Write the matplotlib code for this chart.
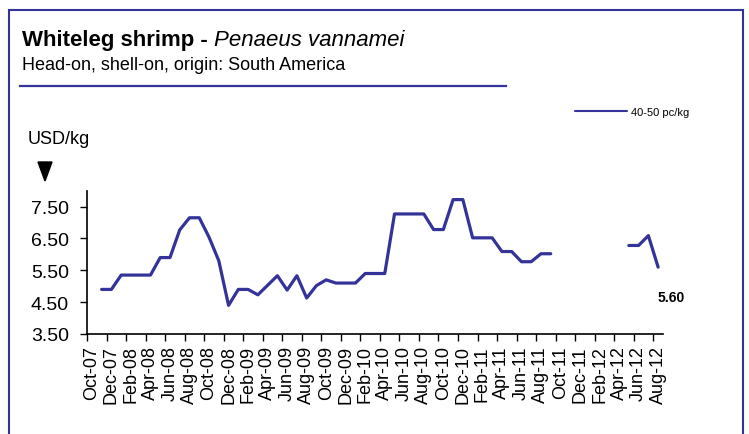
import numpy as np
import matplotlib
matplotlib.use("Agg")
import matplotlib.pyplot as plt
from matplotlib.patches import Rectangle, Polygon
from matplotlib.lines import Line2D

plt.rcParams['font.family'] = ['Liberation Sans', 'DejaVu Sans']

# monthly prices, Oct-07 .. Aug-12 (None = no quote)
prices = [None, 4.90, 4.90, 5.35, 5.35, 5.35, 5.35, 5.90, 5.90, 6.77,
          7.15, 7.15, 6.54, 5.80, 4.40, 4.90, 4.90, 4.73, 5.03, 5.33,
          4.88, 5.33, 4.63, 5.02, 5.20, 5.10, 5.10, 5.10, 5.40, 5.40,
          5.40, 7.27, 7.27, 7.27, 7.27, 6.78, 6.78, 7.72, 7.72, 6.52,
          6.52, 6.52, 6.09, 6.09, 5.77, 5.77, 6.02, 6.02, None, None,
          None, None, None, None, None, 6.28, 6.28, 6.59, 5.60]
tick_labels = ['Oct-07', 'Dec-07', 'Feb-08', 'Apr-08', 'Jun-08', 'Aug-08',
               'Oct-08', 'Dec-08', 'Feb-09', 'Apr-09', 'Jun-09', 'Aug-09',
               'Oct-09', 'Dec-09', 'Feb-10', 'Apr-10', 'Jun-10', 'Aug-10',
               'Oct-10', 'Dec-10', 'Feb-11', 'Apr-11', 'Jun-11', 'Aug-11',
               'Oct-11', 'Dec-11', 'Feb-12', 'Apr-12', 'Jun-12', 'Aug-12']
y_ticks = [3.50, 4.50, 5.50, 6.50, 7.50]
series_name = '40-50 pc/kg'
last_value = 5.60

blue = '#333399'
W, H = 749, 435

fig = plt.figure(figsize=(W / 100, H / 100), dpi=100)
ax = fig.add_axes([87 / W, 1 - 335 / H, (663 - 87) / W, (335 - 191.7) / H])

y = np.array([np.nan if v is None else v for v in prices])
x = np.arange(len(y))
ax.plot(x, y, color=blue, lw=2.3, solid_capstyle='round', solid_joinstyle='round',
        label=series_name)

ax.set_xlim(-0.5, len(y) - 0.5)
ax.set_ylim(3.5, 8.0)
ax.set_yticks(y_ticks)
ax.set_yticklabels(['%.2f' % v for v in y_ticks])
ax.set_xticks(np.arange(-0.5, len(y) - 1, 2))
ax.set_xticklabels([])
ax.set_xticks(np.arange(0, len(y), 2), minor=True)
ax.set_xticklabels(tick_labels, minor=True, rotation=90, fontsize=13)
ax.tick_params(axis='x', which='major', length=5, width=1, direction='out')
ax.tick_params(axis='x', which='minor', length=0, pad=8)
ax.tick_params(axis='y', length=5, width=1, direction='out', pad=8, labelsize=14)
for s in ['top', 'right']:
    ax.spines[s].set_visible(False)
for s in ['left', 'bottom']:
    ax.spines[s].set_linewidth(1.2)

ax.annotate('%.2f' % last_value, xy=(x[-1], y[-1]), xytext=(-1, -30),
            textcoords='offset pixels', ha='left', va='center',
            fontsize=10, fontweight='bold')

# legend
ax.legend(loc='center left', bbox_to_anchor=(575 / W, 1 - 112.7 / H),
          bbox_transform=fig.transFigure, frameon=False, fontsize=8,
          handlelength=4.7, handletextpad=0.3, borderpad=0, borderaxespad=0)
ax.get_legend().get_lines()[0].set_linewidth(1.5)

# header
t1 = fig.text(22 / W, 1 - 46 / H, 'Whiteleg shrimp - ', fontsize=16,
              fontweight='bold', va='baseline')
ax.annotate('Penaeus vannamei', xy=(1, 0), xycoords=t1, va='bottom', ha='left',
            fontsize=16, fontstyle='italic', annotation_clip=False)
fig.text(22 / W, 1 - 70 / H, 'Head-on, shell-on, origin: South America',
         fontsize=13, va='baseline')
fig.add_artist(Line2D([20 / W, 506 / W], [1 - 86.7 / H] * 2, color=blue, lw=1.6))

fig.text(28 / W, 1 - 140 / H, 'USD/kg', fontsize=13, va='center')
fig.add_artist(Polygon([[38 / W, 1 - 163 / H], [52 / W, 1 - 163 / H], [45 / W, 1 - 182 / H]],
                       closed=True, color='black', transform=fig.transFigure))

# frame around the chart
fig.add_artist(Rectangle((9 / W, -0.2), (743 - 9) / W, 1.2 - 11 / H, fill=False,
                         edgecolor=blue, lw=1.5, transform=fig.transFigure, clip_on=False))

fig.savefig('out.png', dpi=100)
